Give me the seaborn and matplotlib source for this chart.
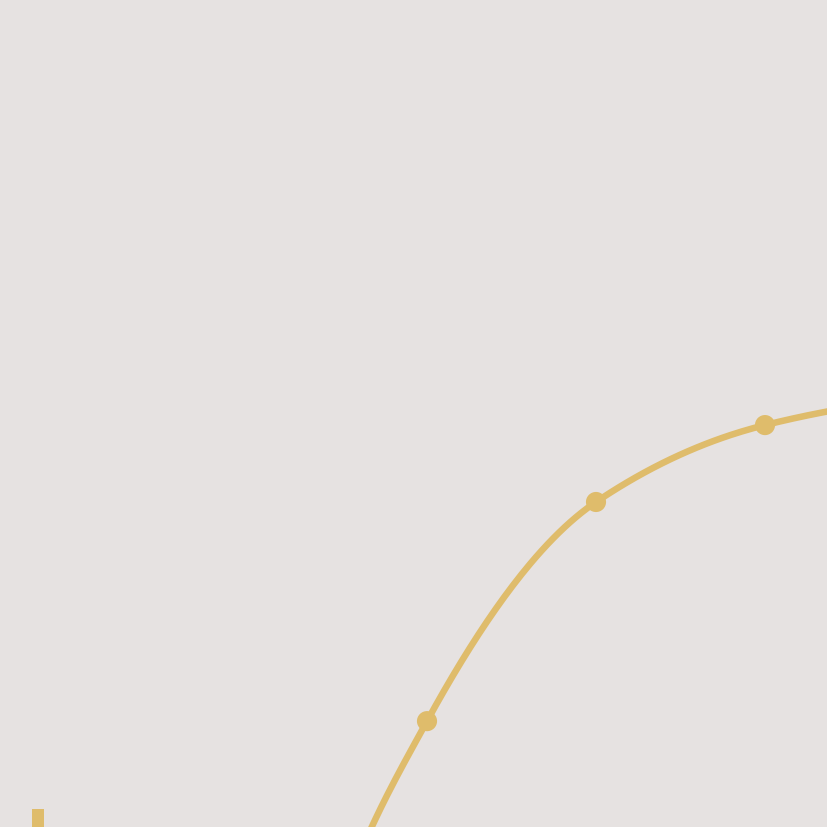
import numpy as np
import matplotlib
matplotlib.use("Agg")
import matplotlib.pyplot as plt
import seaborn as sns

# data (axis units: 0..100 on y, category index on x)
point_x = [0, 1, 2, 3, 4, 5, 6]
point_y = [-1000.0, -50.0, 12.8, 39.3, 48.6, 52.1, 53.6]
bar_x = [-0.3]
bar_y = [2.2]

BG = "#e6e2e1"
GOLD = "#dfbc6b"


def monotone_curve(xs, ys, steps=60):
    # monotone cubic (pchip-style) through the points
    xs = np.asarray(xs, float)
    ys = np.asarray(ys, float)
    h = np.diff(xs)
    s = np.diff(ys) / h
    d = np.zeros_like(ys)
    d[0], d[-1] = s[0], s[-1]
    for i in range(1, len(xs) - 1):
        if s[i - 1] * s[i] > 0:
            w1 = 2 * h[i] + h[i - 1]
            w2 = h[i] + 2 * h[i - 1]
            d[i] = (w1 + w2) / (w1 / s[i - 1] + w2 / s[i])
    t = np.linspace(0, 1, steps)
    h00 = 2 * t ** 3 - 3 * t ** 2 + 1
    h10 = t ** 3 - 2 * t ** 2 + t
    h01 = -2 * t ** 3 + 3 * t ** 2
    h11 = t ** 3 - t ** 2
    out_x, out_y = [], []
    for i in range(len(xs) - 1):
        out_x.extend(xs[i] + t * h[i])
        out_y.extend(h00 * ys[i] + h10 * h[i] * d[i]
                     + h01 * ys[i + 1] + h11 * h[i] * d[i + 1])
    return np.array(out_x), np.array(out_y)


sns.set_theme(style="white", rc={"axes.facecolor": BG, "figure.facecolor": BG})

fig = plt.figure(figsize=(8.27, 8.27), dpi=100)
ax = fig.add_axes([0, 0, 1, 1])

cx, cy = monotone_curve(point_x, point_y)
ax.plot(cx, cy, color=GOLD, lw=4.7, solid_capstyle="round", zorder=2)
sns.scatterplot(x=point_x, y=point_y, ax=ax, color=GOLD, s=210,
                edgecolor="none", zorder=3, legend=False)
ax.bar(bar_x, bar_y, width=0.071, color=GOLD, edgecolor="none",
       linewidth=0, zorder=1)

# pixel 0..827 mapping: index 2 -> 427px, spacing ~169px
ax.set_xlim(2 - 427 / 169, 2 + 400 / 169)
ax.set_ylim(0, 100)
ax.set_axis_off()

fig.savefig("out.png", dpi=100, facecolor=BG)
